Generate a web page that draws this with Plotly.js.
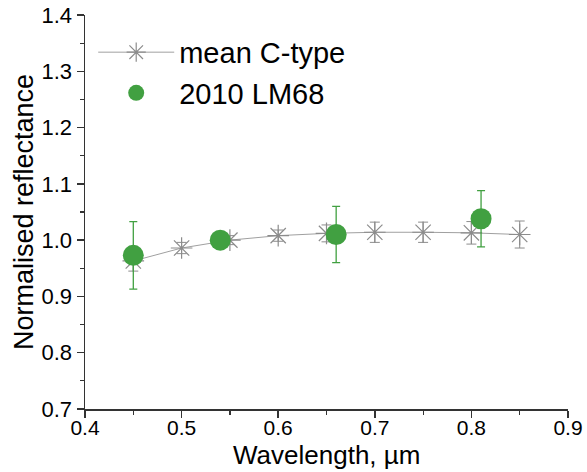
<!DOCTYPE html>
<html>
<head>
<meta charset="utf-8">
<script src="https://cdn.plot.ly/plotly-3.0.1.min.js"></script>
<style>html,body{margin:0;padding:0;background:#fff;}#chart{width:587px;height:472px;}</style>
</head>
<body>
<div id="chart"></div>
<script>
// mean C-type spectrum
var meanWavelength = [0.45, 0.50, 0.55, 0.60, 0.65, 0.70, 0.75, 0.80, 0.85];
var meanReflectance = [0.963, 0.986, 1.000, 1.008, 1.012, 1.014, 1.014, 1.013, 1.010];
var meanError = [0.018, 0.010, 0.008, 0.010, 0.015, 0.018, 0.018, 0.020, 0.024];

// 2010 LM68
var lmWavelength = [0.45, 0.54, 0.66, 0.81];
var lmReflectance = [0.973, 1.000, 1.010, 1.038];
var lmError = [0.060, 0.004, 0.050, 0.050];

var xTickVals = [0.4, 0.5, 0.6, 0.7, 0.8, 0.9];
var xTickText = ['0.4', '0.5', '0.6', '0.7', '0.8', '0.9'];
var yTickVals = [0.7, 0.8, 0.9, 1.0, 1.1, 1.2, 1.3, 1.4];
var yTickText = ['0.7', '0.8', '0.9', '1.0', '1.1', '1.2', '1.3', '1.4'];
var xTitle = 'Wavelength, \u00b5m';
var yTitle = 'Normalised reflectance';

var FONT = 'Liberation Sans, Arial, sans-serif';
var axisColor = '#333333';

var traces = [
  {
    name: 'mean C-type',
    x: meanWavelength, y: meanReflectance,
    type: 'scatter', mode: 'lines+markers',
    line: {color: '#a0a0a0', width: 1},
    marker: {symbol: 'asterisk-open', size: 18, color: '#8c8c8c', line: {color: '#8c8c8c', width: 1.2}},
    error_y: {type: 'data', array: meanError, visible: true, color: '#8c8c8c', thickness: 1, width: 5}
  },
  {
    name: '2010 LM68',
    x: lmWavelength, y: lmReflectance,
    type: 'scatter', mode: 'markers',
    marker: {symbol: 'circle', size: 21, color: '#41a041'},
    error_y: {type: 'data', array: lmError, visible: true, color: '#41a041', thickness: 1.3, width: 4}
  }
];

var layout = {
  width: 587, height: 472,
  margin: {l: 85, r: 19, t: 15, b: 63, pad: 0},
  paper_bgcolor: '#ffffff', plot_bgcolor: '#ffffff',
  font: {family: FONT, color: '#000'},
  showlegend: true,
  legend: {
    x: 0.017, y: 0.97, xanchor: 'left', yanchor: 'top',
    bgcolor: 'rgba(0,0,0,0)', borderwidth: 0,
    font: {family: FONT, size: 29, color: '#000'},
    itemwidth: 76, tracegroupgap: 0
  },
  annotations: [{
    text: xTitle, xref: 'paper', yref: 'paper', x: 0.5, y: -0.118,
    xanchor: 'center', yanchor: 'middle', showarrow: false, borderpad: 0,
    font: {family: FONT, size: 26, color: '#000'}
  }],
  xaxis: {
    range: [0.4, 0.9], tickvals: xTickVals, ticktext: xTickText,
    ticks: 'outside', ticklen: 7, tickwidth: 1.5, tickcolor: axisColor,
    minor: {dtick: 0.05, ticks: 'outside', ticklen: 4, tickwidth: 1.2, tickcolor: axisColor, showgrid: false},
    showline: true, linecolor: axisColor, linewidth: 1.5,
    showgrid: false, zeroline: false, ticklabelstandoff: -8,
    tickfont: {family: FONT, size: 21, color: '#000'}
  },
  yaxis: {
    range: [0.7, 1.4], tickvals: yTickVals, ticktext: yTickText,
    ticks: 'outside', ticklen: 7, tickwidth: 1.5, tickcolor: axisColor,
    minor: {dtick: 0.05, ticks: 'outside', ticklen: 4, tickwidth: 1.2, tickcolor: axisColor, showgrid: false},
    showline: true, linecolor: axisColor, linewidth: 1.5,
    showgrid: false, zeroline: false,
    tickfont: {family: FONT, size: 22, color: '#000'},
    title: {text: yTitle, font: {family: FONT, size: 27, color: '#000'}, standoff: 0}
  },
  xaxis2: {
    overlaying: 'x', side: 'top', anchor: 'y',
    range: [0.4, 0.9], tickvals: xTickVals, showticklabels: false,
    ticks: 'inside', ticklen: 7, tickwidth: 1.5, tickcolor: axisColor,
    minor: {dtick: 0.05, ticks: 'inside', ticklen: 4, tickwidth: 1.2, tickcolor: axisColor, showgrid: false},
    showline: true, linecolor: axisColor, linewidth: 1.5,
    showgrid: false, zeroline: false
  },
  yaxis2: {
    overlaying: 'y', side: 'right', anchor: 'x',
    range: [0.7, 1.4], tickvals: yTickVals, showticklabels: false,
    ticks: 'inside', ticklen: 7, tickwidth: 1.5, tickcolor: axisColor,
    minor: {dtick: 0.05, ticks: 'inside', ticklen: 4, tickwidth: 1.2, tickcolor: axisColor, showgrid: false},
    showline: true, linecolor: axisColor, linewidth: 1.5,
    showgrid: false, zeroline: false
  }
};

Plotly.newPlot('chart', traces, layout, {displayModeBar: false, staticPlot: true});
</script>
</body>
</html>
